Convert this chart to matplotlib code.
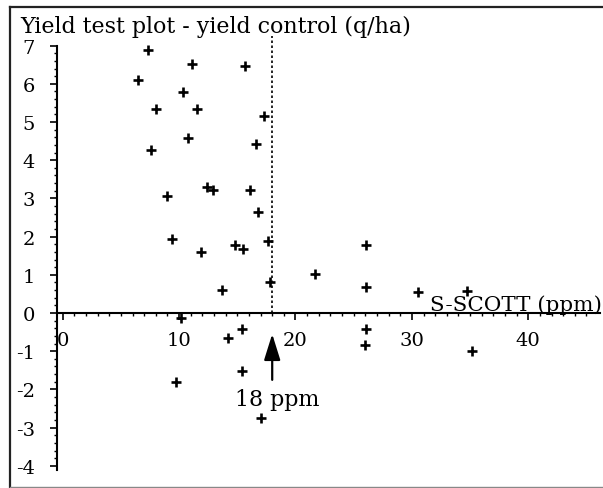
import matplotlib
matplotlib.use('Agg')
import matplotlib.pyplot as plt
from matplotlib.ticker import FixedLocator, FixedFormatter
from matplotlib.lines import Line2D

plt.rcParams['font.family'] = ['DejaVu Serif']
plt.rcParams['axes.unicode_minus'] = False

# ---- data ----
s_scott = [7.3, 11.1, 15.7, 6.5, 10.3, 8.0, 11.5, 17.3, 10.8, 16.6, 7.6,
           12.4, 12.9, 16.1, 9.0, 16.8, 9.4, 17.6, 11.9, 14.8, 15.5, 26.1,
           21.7, 17.8, 26.1, 13.7, 30.5, 34.7, 10.2, 15.4, 26.1, 14.2, 26.0,
           35.2, 15.4, 9.7, 17.0]
yield_diff = [6.89, 6.53, 6.47, 6.11, 5.78, 5.35, 5.35, 5.16, 4.59, 4.42, 4.26,
              3.29, 3.23, 3.23, 3.07, 2.65, 1.94, 1.89, 1.61, 1.78, 1.68, 1.78,
              1.02, 0.80, 0.69, 0.60, 0.54, 0.58, -0.14, -0.42, -0.42, -0.65, -0.84,
              -0.99, -1.51, -1.80, -2.76]
threshold = 18
x_ticks = [0, 10, 20, 30, 40]
x_tick_labels = ['0', '10', '20', '30', '40']
y_ticks = [-4, -3, -2, -1, 0, 1, 2, 3, 4, 5, 6, 7]
y_tick_labels = ['-4', '-3', '-2', '-1', '0', '1', '2', '3', '4', '5', '6', '7']
title = 'Yield test plot - yield control (q/ha)'
x_label = 'S-SCOTT (ppm)'
threshold_label = '18 ppm'

W, H = 603, 489
fig = plt.figure(figsize=(W / 100, H / 100), dpi=100)
fig.patch.set_facecolor('white')
ax = fig.add_axes([0, 0, 1, 1])
ax.set_xlim(-5.387, 46.42)
ax.set_ylim(-4.581, 8.220)

for s in ('top', 'right'):
    ax.spines[s].set_visible(False)
ax.spines['left'].set_position(('data', -0.49))
ax.spines['bottom'].set_position(('data', 0))
ax.spines['left'].set_bounds(-4.1, 7.0)
ax.spines['bottom'].set_bounds(-0.49, 46.2)
for s in ('left', 'bottom'):
    ax.spines[s].set_linewidth(1.5)

ax.xaxis.set_major_locator(FixedLocator(x_ticks))
ax.xaxis.set_major_formatter(FixedFormatter(x_tick_labels))
ax.xaxis.set_minor_locator(FixedLocator([v for v in range(0, 46)]))
ax.yaxis.set_major_locator(FixedLocator(y_ticks))
ax.yaxis.set_major_formatter(FixedFormatter(y_tick_labels))
ax.yaxis.set_minor_locator(FixedLocator([-4 + 0.2 * i for i in range(0, 56)]))

ax.tick_params(axis='both', which='major', direction='out', length=5, width=1.2,
               labelsize=14, color='black', labelcolor='black')
ax.tick_params(axis='x', which='major', pad=8)
ax.tick_params(axis='y', which='major', pad=11)
ax.tick_params(axis='both', which='minor', direction='out', length=2.5, width=1.0)

# threshold line
ax.plot([threshold, threshold], [0, 7.25], color='black', lw=1.2,
        linestyle=(0, (1.5, 1.5)))

# data points
ax.plot(s_scott, yield_diff, linestyle='none', marker='+', markersize=6.5,
        markeredgewidth=1.9, color='black')

# arrow and labels
ax.annotate('', xy=(threshold, -0.55), xytext=(threshold, -1.75),
            arrowprops=dict(arrowstyle='-|>,head_length=1.6,head_width=0.5',
                            lw=1.6, color='black', shrinkA=0, shrinkB=0))
t18 = ax.text(18.4, -2.25, threshold_label, ha='center', va='center', fontsize=14)
txl = ax.text(46.33, 0.07, x_label, ha='right', va='baseline', fontsize=14)
ttl = fig.text(20 / W, 1 - 33 / H, title, ha='left', va='baseline', fontsize=14)

fig.canvas.draw()
renderer = fig.canvas.get_renderer()
for t, target in ((t18, 85), (txl, 172), (ttl, 392)):
    w = t.get_window_extent(renderer).width
    t.set_fontsize(t.get_fontsize() * target / w)

# frame around the picture
fig.add_artist(Line2D([10 / W, 1], [1 - 8 / H, 1 - 8 / H], transform=fig.transFigure,
                      color='#222222', lw=1.6))
fig.add_artist(Line2D([10 / W, 10 / W], [1 - 8 / H, 1 - 488 / H], transform=fig.transFigure,
                      color='#222222', lw=1.6))
fig.add_artist(Line2D([10 / W, 1], [1 - 487.5 / H, 1 - 487.5 / H], transform=fig.transFigure,
                      color='#888888', lw=1.0))

fig.savefig('out.png', dpi=100, facecolor='white')
